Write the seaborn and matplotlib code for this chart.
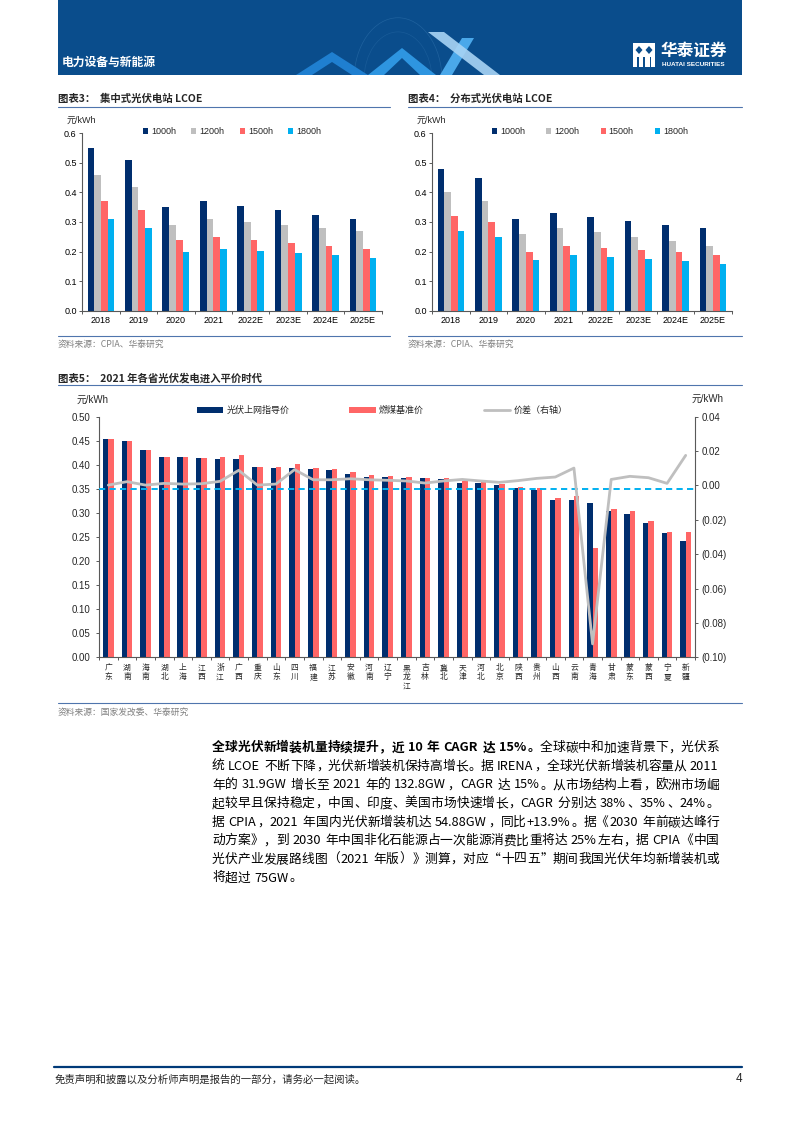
import re
import numpy as np
import pandas as pd
import matplotlib
matplotlib.use("Agg")
import matplotlib.pyplot as plt
import seaborn as sns
from matplotlib.patches import Patch, Rectangle, Polygon, Circle
from matplotlib.lines import Line2D
from matplotlib.ticker import FuncFormatter, MultipleLocator

# -------------------------------------------------------------------
# Data
# -------------------------------------------------------------------

years = ["2018", "2019", "2020", "2021", "2022E", "2023E", "2024E", "2025E"]
hours = ["1000h", "1200h", "1500h", "1800h"]

# 图表3 集中式光伏电站 LCOE (元/kWh)
central_1000 = [0.55, 0.51, 0.35, 0.37, 0.354, 0.339, 0.324, 0.309]
central_1200 = [0.46, 0.42, 0.29, 0.31, 0.300, 0.290, 0.280, 0.268]
central_1500 = [0.37, 0.34, 0.24, 0.25, 0.240, 0.230, 0.220, 0.208]
central_1800 = [0.31, 0.28, 0.20, 0.21, 0.202, 0.195, 0.187, 0.178]

# 图表4 分布式光伏电站 LCOE (元/kWh)
dist_1000 = [0.48, 0.45, 0.31, 0.33, 0.317, 0.304, 0.291, 0.280]
dist_1200 = [0.40, 0.37, 0.26, 0.28, 0.266, 0.250, 0.235, 0.220]
dist_1500 = [0.32, 0.30, 0.20, 0.22, 0.213, 0.205, 0.197, 0.190]
dist_1800 = [0.27, 0.25, 0.17, 0.19, 0.182, 0.175, 0.167, 0.159]

# 图表5 2021 年各省光伏上网指导价 / 燃煤基准价 / 价差
provinces = ["广东", "湖南", "海南", "湖北", "上海", "江西", "浙江", "广西",
             "重庆", "山东", "四川", "福建", "江苏", "安徽", "河南", "辽宁",
             "黑龙江", "吉林", "冀北", "天津", "河北", "北京", "陕西", "贵州",
             "山西", "云南", "青海", "甘肃", "蒙东", "蒙西", "宁夏", "新疆"]
pv_price = [0.453, 0.449, 0.430, 0.4155, 0.4155, 0.414, 0.413, 0.4127,
            0.396, 0.394, 0.3927, 0.3906, 0.3885, 0.381, 0.3747, 0.374,
            0.3733, 0.3719, 0.3705, 0.3622, 0.3622, 0.358, 0.3525, 0.3476,
            0.3276, 0.3262, 0.320, 0.304, 0.2985, 0.2784, 0.2583, 0.2417]
coal_price = [0.453, 0.4505, 0.430, 0.4161, 0.4155, 0.4143, 0.4153, 0.4207,
              0.3964, 0.3949, 0.4012, 0.3932, 0.391, 0.3844, 0.3779, 0.3767,
              0.374, 0.3731, 0.372, 0.3655, 0.3644, 0.3598, 0.3545, 0.3515,
              0.332, 0.3358, 0.2277, 0.3078, 0.3035, 0.2829, 0.2595, 0.2597]
price_gap = [0.0002, 0.0022, 0.0002, 0.0012, 0.0008, 0.0010, 0.0024, 0.0088,
             0.0002, 0.0008, 0.0092, 0.0033, 0.0033, 0.0039, 0.0033, 0.0030,
             0.0026, 0.0014, 0.0026, 0.0035, 0.0026, 0.0018, 0.0028, 0.0041,
             0.0049, 0.0101, -0.0922, 0.0035, 0.0053, 0.0045, 0.0012, 0.0175]

pv_label = "光伏上网指导价"
coal_label = "燃煤基准价"
gap_label = "价差（右轴）"

body_lines = [
    [("全球光伏新增装机量持续提升，近 10 年 CAGR 达 15%。", "bold"), ("全球碳中和加速背景下，光伏系", "normal")],
    [("统 LCOE 不断下降，光伏新增装机保持高增长。据 IRENA，全球光伏新增装机容量从 2011", "normal")],
    [("年的 31.9GW 增长至 2021 年的 132.8GW，CAGR 达 15%。从市场结构上看，欧洲市场崛", "normal")],
    [("起较早且保持稳定，中国、印度、美国市场快速增长，CAGR 分别达 38%、35%、24%。", "normal")],
    [("据 CPIA，2021 年国内光伏新增装机达 54.88GW，同比+13.9%。据《2030 年前碳达峰行", "normal")],
    [("动方案》，到 2030 年中国非化石能源占一次能源消费比重将达 25%左右，据 CPIA《中国", "normal")],
    [("光伏产业发展路线图（2021 年版）》测算，对应“十四五”期间我国光伏年均新增装机或", "normal")],
    [("将超过 75GW。", "normal")],
]

# -------------------------------------------------------------------
# Style
# -------------------------------------------------------------------

NAVY = "#002E6E"
GREY = "#BFBFBF"
RED = "#FF6666"
CYAN = "#00B0F0"
BANNER = "#0A4D8C"
RULE = "#4F75AD"
AXIS = "#595959"
CJK = ["Noto Sans CJK SC", "DejaVu Sans"]
LAT = ["Liberation Sans", "Noto Sans CJK SC", "DejaVu Sans"]

sns.set_style("white")
plt.rcParams["font.family"] = LAT
plt.rcParams["axes.unicode_minus"] = False

W, H = 793, 1122
fig = plt.figure(figsize=(W / 100, H / 100), dpi=100)


def fx(x):
    return x / W


def fy(y):
    return 1 - y / H


def rect(l, t, r, b):
    return [fx(l), fy(b), (r - l) / W, (b - t) / H]


def hline(x0, x1, y, color=RULE, lw=0.8):
    fig.add_artist(Line2D([fx(x0), fx(x1)], [fy(y), fy(y)], color=color, lw=lw,
                          transform=fig.transFigure))


def poly(points, color, alpha=1.0, clip=None):
    p = Polygon([(fx(x), fy(y)) for x, y in points], closed=True, transform=fig.transFigure,
                facecolor=color, edgecolor="none", alpha=alpha)
    fig.add_artist(p)
    if clip is not None:
        p.set_clip_path(clip)
    return p


# -------------------------------------------------------------------
# Header banner
# -------------------------------------------------------------------

banner = Rectangle((fx(58), fy(75)), (742 - 58) / W, 75 / H, transform=fig.transFigure,
                   facecolor=BANNER, edgecolor="none")
fig.add_artist(banner)

for r, a in ((44, 0.18), (34, 0.12)):
    globe = Circle((fx(398), fy(80)), r / W, transform=fig.transFigure, facecolor="none",
                   edgecolor="#7FC0F0", lw=0.5, alpha=a)
    fig.add_artist(globe)
    globe.set_clip_path(banner)
poly([(296, 75), (332, 52), (368, 75), (352, 75), (332, 62), (312, 75)], "#1F7FD0", clip=banner)
poly([(368, 75), (402, 48), (436, 75), (420, 75), (402, 58), (384, 75)], "#2E95E0", clip=banner)
poly([(462, 38), (474, 38), (452, 75), (440, 75)], "#4AA8EA", clip=banner)
poly([(428, 32), (444, 32), (500, 75), (484, 75)], "#A8D4F5", alpha=0.9, clip=banner)

fig.text(fx(62), fy(62), "电力设备与新能源", family=CJK, fontsize=8.5, fontweight="bold",
         color="white", va="center", ha="left")

# logo
fig.add_artist(Rectangle((fx(633), fy(67)), 22 / W, 24 / H, transform=fig.transFigure,
                         facecolor="white", edgecolor="none"))
poly([(639, 46), (642.5, 50), (639, 54), (635.5, 50)], BANNER)
poly([(649, 46), (652.5, 50), (649, 54), (645.5, 50)], BANNER)
for bx in (637.2, 643.4, 649.6):
    fig.add_artist(Rectangle((fx(bx), fy(67)), 1.4 / W, 10 / H, transform=fig.transFigure,
                             facecolor=BANNER, edgecolor="none"))
fig.text(fx(661), fy(51), "华泰证券", family=CJK, fontsize=12, fontweight="bold",
         color="white", va="center", ha="left")
fig.text(fx(662), fy(64.5), "HUATAI SECURITIES", family=LAT, fontsize=4.6, fontweight="bold",
         color="white", va="center", ha="left")

# -------------------------------------------------------------------
# Chart titles and rules
# -------------------------------------------------------------------

fig.text(fx(58), fy(99), "图表3：  集中式光伏电站 LCOE", family=CJK, fontsize=7.5,
         fontweight="bold", va="center", ha="left")
fig.text(fx(408), fy(99), "图表4：  分布式光伏电站 LCOE", family=CJK, fontsize=7.5,
         fontweight="bold", va="center", ha="left")
hline(58, 390, 106.5)
hline(408, 742, 106.5)
hline(58, 390, 335.5)
hline(408, 742, 335.5)
fig.text(fx(58), fy(344), "资料来源：CPIA、华泰研究", family=CJK, fontsize=6.3,
         color="#808080", va="center", ha="left")
fig.text(fx(408), fy(344), "资料来源：CPIA、华泰研究", family=CJK, fontsize=6.3,
         color="#808080", va="center", ha="left")

fig.text(fx(58), fy(378), "图表5：  2021 年各省光伏发电进入平价时代", family=CJK, fontsize=7.5,
         fontweight="bold", va="center", ha="left")
hline(58, 742, 384.5)
hline(58, 742, 703)
fig.text(fx(58), fy(712), "资料来源：国家发改委、华泰研究", family=CJK, fontsize=6.3,
         color="#808080", va="center", ha="left")


# -------------------------------------------------------------------
# LCOE bar charts
# -------------------------------------------------------------------

def style_axis(ax, ylabel_pad=1.5):
    for side in ("top", "right"):
        ax.spines[side].set_visible(False)
    for side in ("left", "bottom"):
        ax.spines[side].set_color(AXIS)
        ax.spines[side].set_linewidth(0.8)
    ax.set_xlabel("")
    ax.set_ylabel("")
    ax.tick_params(axis="y", which="major", direction="out", length=2.5, width=0.7,
                   color=AXIS, pad=ylabel_pad, left=True)
    ax.tick_params(axis="x", which="major", length=0, pad=4)
    ax.tick_params(axis="x", which="minor", direction="out", length=2.5, width=0.7,
                   color=AXIS, bottom=True)


def lcoe_chart(left, right, series, legend_x, col_space):
    df = pd.DataFrame({"year": np.tile(years, len(hours)),
                       "hours": np.repeat(hours, len(years)),
                       "lcoe": np.concatenate(series)})
    ax = fig.add_axes(rect(left, 133.3, right, 310.7))
    sns.barplot(data=df, x="year", y="lcoe", hue="hours", order=years, hue_order=hours,
                palette=[NAVY, GREY, RED, CYAN], width=0.72, saturation=1, errorbar=None,
                legend=False, linewidth=0, ax=ax)
    ax.set_xlim(-0.5, len(years) - 0.5)
    ax.set_ylim(0, 0.6)
    ax.yaxis.set_major_locator(MultipleLocator(0.1))
    ax.yaxis.set_major_formatter(FuncFormatter(lambda v, p: f"{v:.1f}"))
    ax.set_xticks(np.arange(len(years) + 1) - 0.5, minor=True)
    style_axis(ax)
    for lab in ax.get_xticklabels() + ax.get_yticklabels():
        lab.set_fontsize(6.5)
        lab.set_color("black")
    handles = [Patch(facecolor=c, edgecolor="none") for c in (NAVY, GREY, RED, CYAN)]
    fig.legend(handles, hours, loc="center left", bbox_to_anchor=(fx(legend_x), fy(131.5)),
               ncol=4, frameon=False, fontsize=6.5, handlelength=0.55, handleheight=0.55,
               handletextpad=0.35, columnspacing=col_space, borderpad=0, borderaxespad=0)
    fig.text(fx(left - 16), fy(120), "元/kWh", fontsize=6.5, va="center", ha="left")
    return ax


lcoe_chart(82.3, 381.7, [central_1000, central_1200, central_1500, central_1800], 143, 1.7)
lcoe_chart(432.3, 731.7, [dist_1000, dist_1200, dist_1500, dist_1800], 492, 2.35)

# -------------------------------------------------------------------
# Province price chart
# -------------------------------------------------------------------

n = len(provinces)
price_df = pd.DataFrame({"province": provinces * 2,
                         "type": [pv_label] * n + [coal_label] * n,
                         "price": pv_price + coal_price})
ax5 = fig.add_axes(rect(99, 416.7, 695, 657.3))
sns.barplot(data=price_df, x="province", y="price", hue="type", order=provinces,
            hue_order=[pv_label, coal_label], palette=[NAVY, RED], width=0.58, saturation=1,
            errorbar=None, legend=False, linewidth=0, ax=ax5)
ax5.axhline(0.35, color=CYAN, lw=1.4, ls=(0, (3.2, 2.2)), zorder=5)
style_axis(ax5, ylabel_pad=4)
ax5.set_ylim(0, 0.5)
ax5.yaxis.set_major_locator(MultipleLocator(0.05))
ax5.yaxis.set_major_formatter(FuncFormatter(lambda v, p: f"{v:.2f}"))
ax5.set_xticks(np.arange(n))
ax5.set_xticklabels(["\n".join(p) for p in provinces], family=CJK, fontsize=5.6,
                    linespacing=1.15)
ax5.set_xticks(np.arange(n + 1) - 0.5, minor=True)
ax5.tick_params(axis="x", which="major", pad=5)
for lab in ax5.get_yticklabels():
    lab.set_fontsize(7)

tw = ax5.twinx()
sns.lineplot(x=np.arange(n), y=price_gap, ax=tw, color=GREY, lw=2, sort=False)
tw.set_ylim(-0.10, 0.04)
tw.yaxis.set_major_locator(MultipleLocator(0.02))


def paren(v, pos):
    if abs(v) < 1e-9:
        return "0.00"
    return f"({abs(v):.2f})" if v < 0 else f"{v:.2f}"


tw.yaxis.set_major_formatter(FuncFormatter(paren))
for side in ("top", "left", "bottom"):
    tw.spines[side].set_visible(False)
tw.spines["right"].set_color(AXIS)
tw.spines["right"].set_linewidth(0.8)
tw.tick_params(axis="y", direction="out", length=2.5, width=0.7, color=AXIS, pad=2,
               labelsize=7, right=True)
tw.set_ylabel("")
ax5.set_xlim(-0.5, n - 0.5)

fig.text(fx(77), fy(400), "元/kWh", fontsize=7, va="center", ha="left")
fig.text(fx(692), fy(399), "元/kWh", fontsize=7, va="center", ha="left")

leg_handles = [Patch(facecolor=NAVY, edgecolor="none"), Patch(facecolor=RED, edgecolor="none"),
               Line2D([0], [0], color=GREY, lw=2)]
fig.legend(leg_handles, [pv_label, coal_label, gap_label], loc="center left",
           bbox_to_anchor=(fx(197), fy(410.5)), ncol=3, frameon=False,
           prop={"family": CJK, "size": 6.5}, handlelength=2.9, handleheight=0.75,
           handletextpad=0.4, columnspacing=6.6, borderpad=0, borderaxespad=0)

# -------------------------------------------------------------------
# Body paragraph (justified, character by character)
# -------------------------------------------------------------------

renderer = fig.canvas.get_renderer()


def body_line(y, parts, x0=212, x1=719, size=9.2, justify=True):
    em = size * fig.dpi / 72
    items = []
    for text, weight in parts:
        for tok in re.findall(r"[A-Za-z0-9.%+]+|\s|.", text):
            items.append((tok, weight))
    widths, arts = [], []
    for tok, weight in items:
        if tok == " ":
            widths.append(em * 0.28)
            arts.append(None)
            continue
        t = fig.text(0, 0, tok, family=CJK, fontsize=size, fontweight=weight,
                     va="baseline", ha="left", color="black")
        wide = ord(tok[0]) > 0x2000
        widths.append(em if wide else t.get_window_extent(renderer).width + em * 0.06)
        arts.append(t)
    gap = 0
    if justify and len(items) > 1:
        gap = (x1 - x0 - sum(widths)) / (len(items) - 1)
    x = x0
    base = y + em * 0.36
    for (tok, _), w, t in zip(items, widths, arts):
        if t is not None:
            off = 0
            if ord(tok[0]) > 0x2000:
                ink = t.get_window_extent(renderer).width
                if tok in "（《“":
                    off = em - ink - em * 0.05
                elif tok in "，。、）》”：；":
                    off = em * 0.05
                else:
                    off = (em - ink) / 2
            t.set_position((fx(x + off), fy(base)))
        x += w + gap


line_y = [746.7, 765.3, 783.9, 802.5, 821.1, 839.7, 858.3, 876.9]
for i, (yy, parts) in enumerate(zip(line_y, body_lines)):
    body_line(yy, parts, justify=i < len(body_lines) - 1)

# -------------------------------------------------------------------
# Footer
# -------------------------------------------------------------------

hline(54, 742, 1067, color="#003A78", lw=1.6)
fig.text(fx(55), fy(1079), "免责声明和披露以及分析师声明是报告的一部分，请务必一起阅读。",
         family=CJK, fontsize=7.5, style="italic", va="center", ha="left")
fig.text(fx(742), fy(1079), "4", fontsize=8.5, va="center", ha="right")

fig.savefig("out.png", dpi=100, facecolor="white")
